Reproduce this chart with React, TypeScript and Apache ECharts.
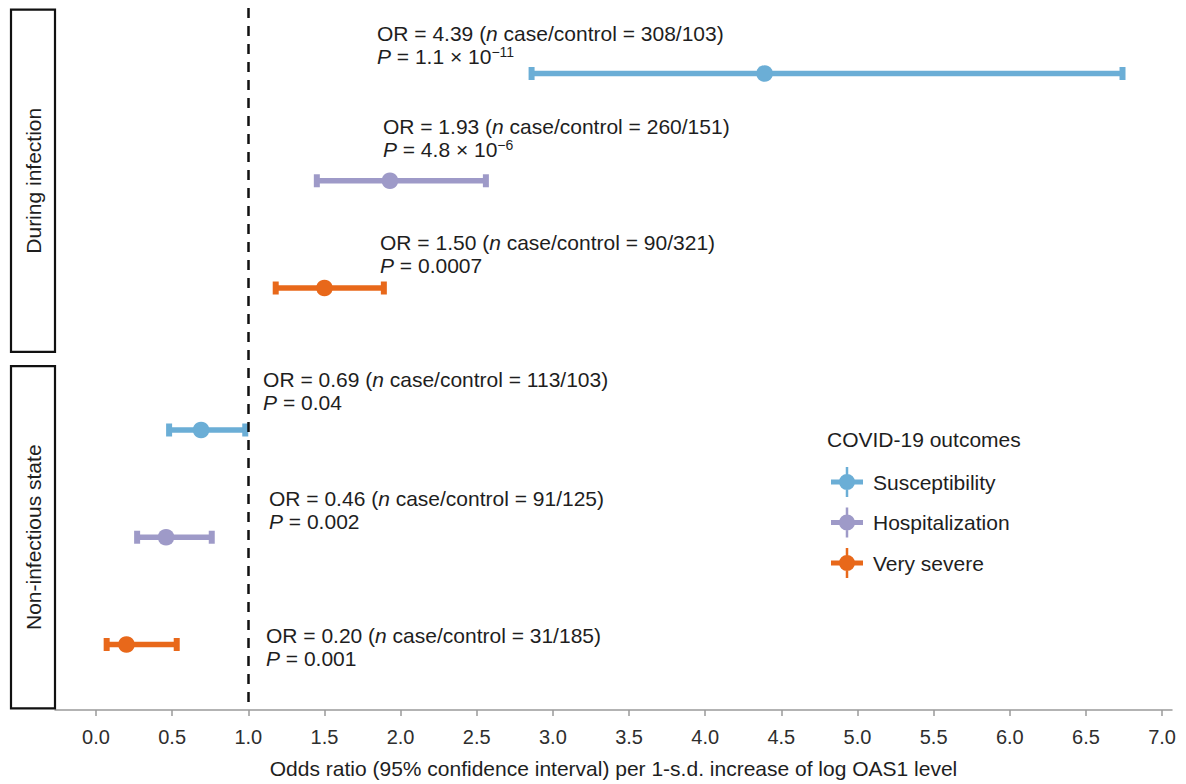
import React, { useEffect, useRef } from "react";
import * as echarts from "echarts";

// ---- data -------------------------------------------------------------
const outcomes = ["Susceptibility", "Hospitalization", "Very severe"];
const states = ["During infection", "Non-infectious state"];

// per outcome: [during infection, non-infectious state]
const oddsRatio = [
  [4.39, 0.69],
  [1.93, 0.46],
  [1.5, 0.2],
];
const ciLower = [
  [2.86, 0.48],
  [1.45, 0.27],
  [1.18, 0.07],
];
const ciUpper = [
  [6.74, 0.98],
  [2.56, 0.76],
  [1.89, 0.53],
];
const caseControl = [
  ["308/103", "113/103"],
  ["260/151", "91/125"],
  ["90/321", "31/185"],
];
const pValueText = [
  ["1.1 × 10", "0.04"],
  ["4.8 × 10", "0.002"],
  ["0.0007", "0.001"],
];
const pValueExponent = [
  ["−11", ""],
  ["−6", ""],
  ["", ""],
];
const xTicks = [0, 0.5, 1, 1.5, 2, 2.5, 3, 3.5, 4, 4.5, 5, 5.5, 6, 6.5, 7];
const nullEffect = 1;

// ---- layout & style ---------------------------------------------------
const colors = ["#6baed6", "#9e9ac8", "#e8681a"];
const FONT = '"Liberation Sans", Arial, Helvetica, sans-serif';
const TEXT = "#1e1e1e";
const GROUP_GAP = 0.324; // extra space between the two state panels (row units)
const BOX_HALF = 1.595; // half height of a state box (row units)
// annotation anchors: x in OR units, vertical offset of first line (px)
const labelX = [
  [1.845, 1.097],
  [1.884, 1.136],
  [1.865, 1.116],
];
const labelDy = [
  [-40, -50],
  [-54, -39],
  [-46, -9],
];

const rowOf = (state: number, outcome: number) => state * (3 + GROUP_GAP) + outcome;

const LEGEND_ICON =
  "path://M0,12.5h32v5h-32z M14.75,0h2.5v30h-2.5z M24,15a8,8 0 1,1 -16,0a8,8 0 1,1 16,0z";

const baseText = { fontSize: 21, fontFamily: FONT, fill: TEXT, lineHeight: 23 };
const rich = {
  t: { ...baseText },
  i: { ...baseText, fontStyle: "italic" },
  s: { fontSize: 14, fontFamily: FONT, fill: TEXT, lineHeight: 12, verticalAlign: "top" },
};

function annotation(k: number, s: number) {
  const line1 = `{t|OR = ${oddsRatio[k][s].toFixed(2)} (}{i|n}{t| case/control = ${caseControl[k][s]})}`;
  const exp = pValueExponent[k][s];
  const line2 = `{i|P}{t| = ${pValueText[k][s]}}` + (exp ? `{s|${exp}}` : "");
  return line1 + "\n" + line2;
}

export default function App() {
  const ref = useRef<HTMLDivElement>(null);

  useEffect(() => {
    if (!ref.current) return;
    const chart = echarts.init(ref.current, undefined, { renderer: "svg" });

    const outcomeSeries = outcomes.map((name, k) => ({
      type: "custom",
      name,
      itemStyle: { color: colors[k] },
      data: states.map((_, s) => [ciLower[k][s], ciUpper[k][s], oddsRatio[k][s], rowOf(s, k), s]),
      dimensions: ["lower", "upper", "or", "row", "state"],
      encode: { x: [0, 1, 2], y: 3 },
      renderItem: (_params: any, api: any) => {
        const lo = api.value(0);
        const hi = api.value(1);
        const or = api.value(2);
        const row = api.value(3);
        const s = api.value(4);
        const p0 = api.coord([lo, row]);
        const p1 = api.coord([hi, row]);
        const pc = api.coord([or, row]);
        const lx = api.coord([labelX[k][s], row])[0];
        const color = colors[k];
        return {
          type: "group",
          children: [
            {
              type: "line",
              shape: { x1: p0[0], y1: p0[1], x2: p1[0], y2: p1[1] },
              style: { stroke: color, lineWidth: 5.5 },
            },
            {
              type: "rect",
              shape: { x: p0[0] - 3, y: p0[1] - 6.5, width: 6, height: 13 },
              style: { fill: color },
            },
            {
              type: "rect",
              shape: { x: p1[0] - 3, y: p1[1] - 6.5, width: 6, height: 13 },
              style: { fill: color },
            },
            {
              type: "circle",
              shape: { cx: pc[0], cy: pc[1], r: 8.3 },
              style: { fill: color },
            },
            {
              type: "text",
              x: lx,
              y: pc[1] + labelDy[k][s] - 11.5,
              style: {
                text: annotation(k, s),
                rich,
                fontSize: 21,
                fontFamily: FONT,
                fill: TEXT,
                lineHeight: 23,
                align: "left",
                verticalAlign: "top",
              },
            },
          ],
        };
      },
    }));

    const option = {
      animation: false,
      backgroundColor: "#ffffff",
      grid: { left: 55, right: 14, top: 8, bottom: 69, containLabel: false },
      xAxis: {
        type: "value",
        min: -0.2692,
        max: 7.065,
        name: "Odds ratio (95% confidence interval) per 1-s.d. increase of log OAS1 level",
        nameLocation: "middle",
        nameGap: 48,
        nameTextStyle: { fontSize: 21, fontFamily: FONT, color: TEXT },
        splitLine: { show: false },
        axisLine: { show: true, onZero: false, lineStyle: { color: "#9a9a9a", width: 1.5 } },
        axisTick: {
          show: true,
          length: 6,
          customValues: xTicks,
          lineStyle: { color: "#9a9a9a", width: 1.5 },
        },
        axisLabel: {
          show: true,
          customValues: xTicks,
          margin: 17,
          fontSize: 20,
          fontFamily: FONT,
          color: "#2e2e2e",
          formatter: (v: number) => v.toFixed(1),
        },
      },
      yAxis: {
        type: "value",
        inverse: true,
        min: -0.611,
        max: 5.935,
        show: false,
        splitLine: { show: false },
      },
      legend: {
        orient: "vertical",
        left: 826,
        top: 462,
        itemWidth: 32,
        itemHeight: 30,
        itemGap: 10.5,
        selectedMode: false,
        data: outcomes.map((name) => ({ name, icon: LEGEND_ICON })),
        textStyle: { fontSize: 21, fontFamily: FONT, color: TEXT, padding: [0, 0, 0, 5] },
      },
      graphic: [
        {
          type: "text",
          x: 827,
          y: 439,
          style: {
            text: "COVID-19 outcomes",
            fontSize: 21,
            fontFamily: FONT,
            fill: TEXT,
            verticalAlign: "middle",
          },
        },
      ],
      series: [
        {
          type: "custom",
          name: "state panels",
          silent: true,
          data: states.map((_, s) => [s]),
          encode: { y: 0 },
          renderItem: (_params: any, api: any) => {
            const s = api.value(0);
            const center = rowOf(s, 1);
            const top = api.coord([0, center - BOX_HALF])[1];
            const bottom = api.coord([0, center + BOX_HALF])[1];
            return {
              type: "group",
              children: [
                {
                  type: "rect",
                  shape: { x: 11, y: top, width: 44, height: bottom - top },
                  style: { fill: "#ffffff", stroke: "#111111", lineWidth: 2.2 },
                },
                {
                  type: "text",
                  x: 33,
                  y: (top + bottom) / 2,
                  rotation: Math.PI / 2,
                  style: {
                    text: states[s],
                    fontSize: 21,
                    fontFamily: FONT,
                    fill: TEXT,
                    align: "center",
                    verticalAlign: "middle",
                  },
                },
              ],
            };
          },
        },
        {
          type: "line",
          name: "null effect",
          data: [],
          silent: true,
          markLine: {
            silent: true,
            symbol: "none",
            label: { show: false },
            lineStyle: { type: [10, 8], color: "#111111", width: 2.5 },
            data: [{ xAxis: nullEffect }],
          },
        },
        ...outcomeSeries,
      ],
    };

    chart.setOption(option as any);
    return () => chart.dispose();
  }, []);

  return (
    <div
      ref={ref}
      style={{ position: "fixed", left: 0, top: 0, width: 1186, height: 784, background: "#fff" }}
    />
  );
}
